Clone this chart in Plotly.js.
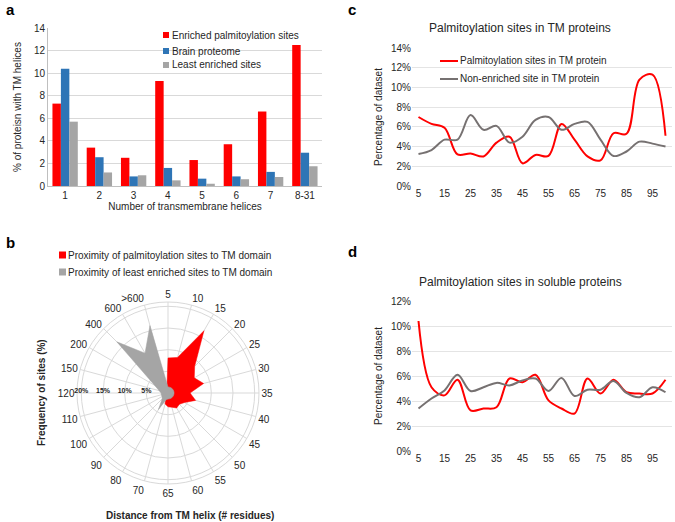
<!DOCTYPE html>
<html>
<head>
<meta charset="utf-8">
<script src="https://cdn.plot.ly/plotly-3.0.1.min.js"></script>
<style>
  html, body { margin: 0; padding: 0; background: #fff; }
  #fig { width: 675px; height: 522px; }
</style>
</head>
<body>
<div id="fig"></div>
<script>
// panel a: TM helix counts
const helixCats = ['1', '2', '3', '4', '5', '6', '7', '8-31'];
const enrichedPct = [7.3, 3.4, 2.5, 9.3, 2.3, 3.7, 6.6, 12.5];
const brainPct = [10.4, 2.55, 0.85, 1.6, 0.65, 0.85, 1.25, 2.95];
const leastPct = [5.7, 1.2, 0.95, 0.5, 0.2, 0.6, 0.8, 1.75];

// panel b: distance from TM helix (radar)
const distCats = ['5', '10', '15', '20', '25', '30', '35', '40', '45', '50', '55', '60',
	'65', '70', '80', '90', '100', '110', '120', '150', '200', '400', '600', '>600'];
const palmProx = [8.1, 8.5, 16.6, 8.7, 7.0, 8.5, 5.1, 6.6, 4.4, 3.7, 4.0, 3.4,
	3.2, 2.6, 1.0, 1.0, 1.0, 1.0, 1.0, 1.0, 1.0, 1.2, 1.2, 1.0];
const leastProx = [1.4, 1.4, 1.4, 1.4, 1.4, 1.4, 1.4, 1.4, 1.4, 1.4, 1.4, 1.4,
	1.4, 1.6, 4.4, 1.9, 1.6, 1.6, 1.6, 2.1, 3.6, 16.7, 10.6, 16.1];

// panels c and d: position bins
const bins = [5, 10, 15, 20, 25, 30, 35, 40, 45, 50, 55, 60, 65, 70, 75, 80, 85, 90, 95, 100];
const binTicks = [5, 15, 25, 35, 45, 55, 65, 75, 85, 95];
const tmPalm = [7.0, 6.3, 5.9, 3.2, 3.3, 3.0, 4.4, 5.0, 2.3, 3.15, 3.05, 6.3, 4.7, 3.0, 2.6, 5.35, 5.3, 10.8, 11.3, 5.1];
const tmNonEnr = [3.25, 3.65, 4.7, 4.7, 7.2, 5.7, 6.1, 4.4, 5.0, 6.7, 7.0, 5.7, 6.3, 6.5, 4.7, 3.05, 3.5, 4.5, 4.3, 4.0];
const solPalm = [10.4, 5.1, 4.45, 5.7, 3.25, 3.4, 3.5, 5.8, 5.5, 6.1, 4.05, 3.4, 3.0, 5.8, 4.6, 5.7, 4.7, 4.6, 4.6, 5.7];
const solNonEnr = [3.4, 4.2, 4.85, 6.1, 4.8, 5.1, 5.45, 5.25, 5.65, 5.8, 4.8, 5.85, 4.4, 4.9, 4.9, 5.6, 4.65, 4.3, 5.1, 4.7];

const RED = '#ff0000';
const BLUE = '#2e75b6';
const GREY = '#a5a5a5';
const LINEGREY = '#767171';
const FONT = 'Liberation Sans, Arial, sans-serif';
const TXT = '#262626';
const GRID = '#d9d9d9';

// close polygon for radar fill
const closeLoop = (arr) => arr.concat([arr[0]]);

const data = [
	// a
	{ type: 'bar', x: helixCats, y: enrichedPct, name: 'Enriched palmitoylation sites',
		marker: { color: RED }, xaxis: 'x', yaxis: 'y' },
	{ type: 'bar', x: helixCats, y: brainPct, name: 'Brain proteome',
		marker: { color: BLUE }, xaxis: 'x', yaxis: 'y' },
	{ type: 'bar', x: helixCats, y: leastPct, name: 'Least enriched sites',
		marker: { color: GREY }, xaxis: 'x', yaxis: 'y' },
	// b
	{ type: 'scatterpolar', theta: closeLoop(distCats), r: closeLoop(palmProx),
		name: 'Proximity of palmitoylation sites to TM domain', mode: 'lines',
		fill: 'toself', fillcolor: RED, line: { color: RED, width: 0.5 }, subplot: 'polar' },
	{ type: 'scatterpolar', theta: closeLoop(distCats), r: closeLoop(leastProx),
		name: 'Proximity of least enriched sites to TM domain', mode: 'lines',
		fill: 'toself', fillcolor: GREY, line: { color: GREY, width: 0.5 }, subplot: 'polar' },
	// c
	{ type: 'scatter', mode: 'lines', x: bins, y: tmPalm, name: 'Palmitoylation sites in TM protein',
		line: { color: RED, width: 2, shape: 'spline', smoothing: 1 }, xaxis: 'x2', yaxis: 'y2' },
	{ type: 'scatter', mode: 'lines', x: bins, y: tmNonEnr, name: 'Non-enriched site in TM protein',
		line: { color: LINEGREY, width: 2, shape: 'spline', smoothing: 1 }, xaxis: 'x2', yaxis: 'y2' },
	// d
	{ type: 'scatter', mode: 'lines', x: bins, y: solPalm,
		line: { color: RED, width: 2, shape: 'spline', smoothing: 1 }, xaxis: 'x3', yaxis: 'y3' },
	{ type: 'scatter', mode: 'lines', x: bins, y: solNonEnr,
		line: { color: LINEGREY, width: 2, shape: 'spline', smoothing: 1 }, xaxis: 'x3', yaxis: 'y3' },
];

const W = 675, H = 522;
const px = (v) => v / W;
const py = (v) => 1 - v / H;

const lineAxisX = (dom, anchor) => ({
	domain: dom, anchor: anchor, range: [2.5, 102.5], tickvals: binTicks,
	showgrid: false, zeroline: false, showline: false, ticks: '',
	tickfont: { size: 10, color: TXT },
});
const lineAxisY = (dom, anchor, max) => ({
	domain: dom, anchor: anchor, range: [0, max], dtick: 2, ticksuffix: '%',
	gridcolor: '#e4e4e4', zeroline: false, showline: false, ticks: '',
	tickfont: { size: 10, color: TXT },
	title: { text: 'Percentage of dataset', font: { size: 10, color: TXT }, standoff: 6 },
});

// hand-placed legends (pixel positions)
const annots = [];
const shapes = [];
const txt = (text, x, y, opts = {}) => annots.push(Object.assign({
	text, x: px(x), y: py(y), xref: 'paper', yref: 'paper',
	xanchor: 'left', yanchor: 'middle', showarrow: false,
	font: { size: 10, color: TXT },
}, opts));
const square = (x, y, s, color) => shapes.push({
	type: 'rect', xref: 'paper', yref: 'paper', x0: px(x), x1: px(x + s),
	y0: py(y + s / 2), y1: py(y - s / 2), fillcolor: color, line: { width: 0 },
});
const seg = (x0, x1, y, color) => shapes.push({
	type: 'line', xref: 'paper', yref: 'paper', x0: px(x0), x1: px(x1),
	y0: py(y), y1: py(y), line: { color, width: 2 },
});

// a legend
[[data[0].name, RED, 35], [data[1].name, BLUE, 51], [data[2].name, GREY, 65]].forEach(([n, c, y]) => {
	square(163, y, 6, c);
	txt(n, 170, y);
});
// b legend
[[data[3].name, RED, 255], [data[4].name, GREY, 272]].forEach(([n, c, y]) => {
	square(59, y, 7, c);
	txt(n, 66, y);
});
// c legend
[[data[5].name, RED, 61], [data[6].name, LINEGREY, 79]].forEach(([n, c, y]) => {
	seg(440, 458, y, c);
	txt(n, 458, y);
});

// panel letters and titles
txt('<b>a</b>', 4, 9, { font: { size: 15, color: '#000' } });
txt('<b>c</b>', 346, 9, { font: { size: 15, color: '#000' } });
txt('<b>b</b>', 4, 243, { font: { size: 15, color: '#000' } });
txt('<b>d</b>', 346, 251, { font: { size: 15, color: '#000' } });
txt('Palmitoylation sites in TM proteins', 520, 28, { xanchor: 'center', font: { size: 12, color: TXT } });
txt('Palmitoylation sites in soluble proteins', 520, 282, { xanchor: 'center', font: { size: 12, color: TXT } });
txt('<b>Frequency of sites (%)</b>', 41, 393, { xanchor: 'center', textangle: -90 });
txt('<b>Distance from TM helix (# residues)</b>', 190, 515, { xanchor: 'center' });

const layout = {
	width: W, height: H,
	margin: { l: 0, r: 0, t: 0, b: 0 },
	paper_bgcolor: '#fff', plot_bgcolor: '#fff',
	font: { family: FONT, color: TXT, size: 10 },
	showlegend: false,
	barmode: 'group', bargap: 0.26, bargroupgap: 0,
	xaxis: {
		domain: [px(48), px(322)], anchor: 'y', type: 'category',
		showline: true, linecolor: '#bfbfbf', ticks: '',
		tickfont: { size: 10, color: TXT },
		title: { text: 'Number of transmembrane helices', font: { size: 10, color: TXT }, standoff: 1 },
	},
	yaxis: {
		domain: [py(186), py(28)], anchor: 'x', range: [0, 14], dtick: 2,
		showline: true, linecolor: '#bfbfbf', gridcolor: GRID, zeroline: false,
		ticks: '', tickfont: { size: 10, color: TXT },
		title: { text: '% of proteisn with TM helices', font: { size: 10, color: TXT }, standoff: 10 },
	},
	xaxis2: lineAxisX([px(412), px(672)], 'y2'),
	yaxis2: lineAxisY([py(186), py(48)], 'x2', 14),
	xaxis3: lineAxisX([px(412), px(672)], 'y3'),
	yaxis3: lineAxisY([py(451), py(301)], 'x3', 12),
	polar: {
		domain: { x: [px(77), px(259)], y: [py(484), py(302)] },
		bgcolor: '#fff',
		angularaxis: {
			type: 'category', categoryarray: distCats, direction: 'clockwise', rotation: 90,
			gridcolor: GRID, linecolor: GRID, showline: true, ticks: '',
			tickfont: { size: 10, color: TXT }, layer: 'above traces',
		},
		radialaxis: {
			range: [0, 21], tickvals: [5, 10, 15, 20], ticktext: ['5%', '10%', '15%', '20%'],
			angle: 180, tickangle: 180, showline: false, gridcolor: GRID, ticks: '',
			tickfont: { size: 7, color: TXT, weight: 'bold' }, layer: 'above traces',
		},
	},
	shapes: shapes,
	annotations: annots,
};

Plotly.newPlot('fig', data, layout, { staticPlot: true, displayModeBar: false });
</script>
</body>
</html>
